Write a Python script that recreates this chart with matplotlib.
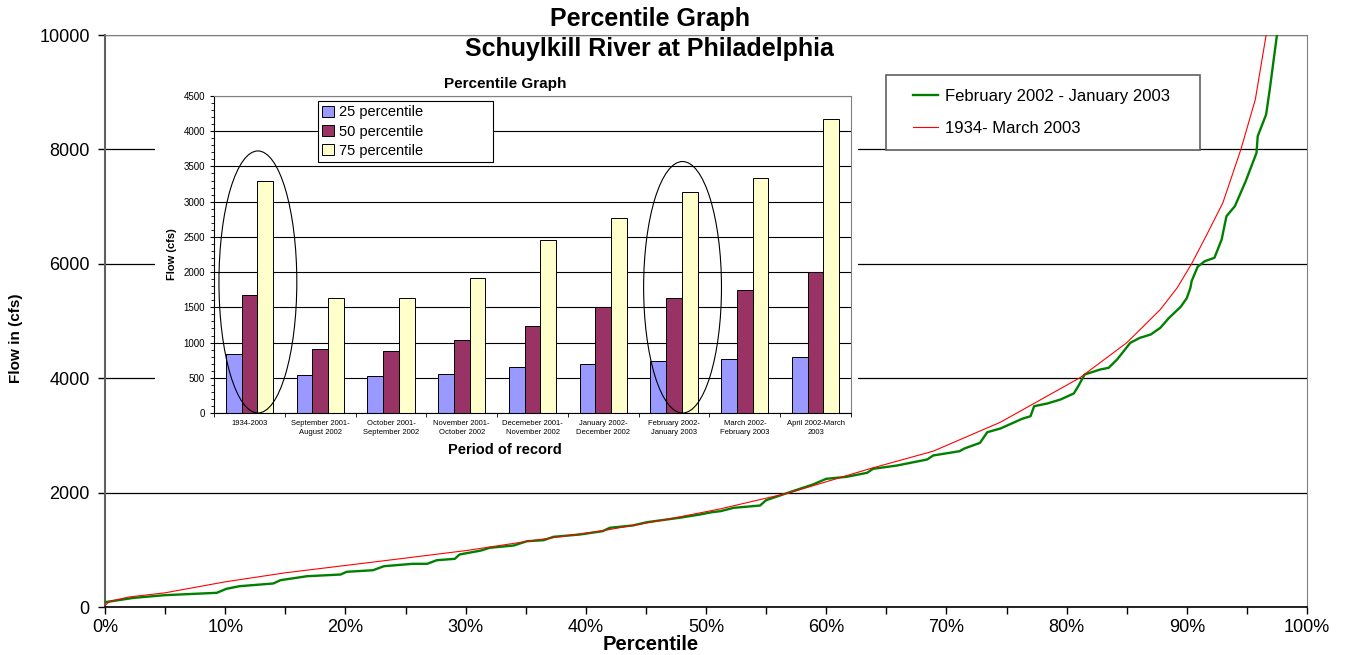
import matplotlib
matplotlib.use("Agg")
import matplotlib.pyplot as plt
from matplotlib.patches import Ellipse, Rectangle
from matplotlib.ticker import MultipleLocator, FuncFormatter
import numpy as np

plt.rcParams['font.family'] = ['Liberation Sans', 'DejaVu Sans']

# flow duration curves (percentile in %, flow in cfs)
pct_recent = [0, 2.4, 5, 9.3, 10.1, 11.2, 14, 14.6, 16.8, 19.6, 20.1, 22.3, 23.2, 25.6,
              26.8, 27.6, 29.1, 29.5, 31.3, 32, 34, 35.1, 36.5, 37.3, 39.5, 41.4, 42,
              43.9, 45.1, 47.8, 49.5, 50.5, 51.2, 52.3, 54.5, 55, 56.4, 57.8, 58.9, 60,
              61.7, 63.4, 63.9, 65.9, 68.4, 68.9, 71.1, 71.5, 72.8, 73.4, 74.5, 76.3, 77,
              77.3, 78.4, 79.5, 80.6, 81, 81.5, 82.8, 83.5, 84.2, 85.3, 86.1, 87, 87.8,
              88.5, 89.5, 90, 90.3, 90.4, 90.9, 91.5, 92.3, 92.9, 93.3, 94, 94.9, 95.8,
              95.9, 96.6, 96.9, 97.5, 98]
flow_recent = [84, 160, 207, 248, 318, 364, 411, 469, 538, 568, 615, 643, 713, 755,
               755, 818, 842, 918, 988, 1035, 1075, 1150, 1168, 1227, 1267, 1326, 1385,
               1425, 1483, 1560, 1617, 1658, 1675, 1734, 1774, 1867, 1967, 2066, 2142, 2241,
               2276, 2346, 2416, 2474, 2579, 2649, 2724, 2771, 2870, 3056, 3121, 3290, 3336,
               3511, 3558, 3628, 3733, 3872, 4065, 4152, 4182, 4327, 4619, 4706, 4764, 4881,
               5050, 5250, 5400, 5580, 5696, 5948, 6046, 6105, 6425, 6832, 7007, 7444, 7940,
               8231, 8610, 9047, 10000, 11000]

pct_record = [0, 0.4, 2, 5, 10, 15, 20, 24.5, 30.1, 35.6, 41.2, 46.7, 51.2, 57, 63.6,
              68.9, 74.5, 81.1, 85, 87.8, 89.2, 90.4, 91.6, 93, 94.5, 95.7, 96.6, 97.5]
flow_record = [26, 100, 175, 248, 440, 598, 726, 842, 988, 1163, 1326, 1530, 1716, 2000, 2416,
               2724, 3231, 4007, 4619, 5201, 5580, 6000, 6483, 7066, 8000, 8872, 10000, 11500]

# inset bar chart
periods = ["1934-2003", "September 2001-\nAugust 2002", "October 2001-\nSeptember 2002",
           "November 2001-\nOctober 2002", "Decemeber 2001-\nNovember 2002",
           "January 2002-\nDecember 2002", "February 2002-\nJanuary 2003",
           "March 2002-\nFebruary 2003", "April 2002-March\n2003"]
p25 = [840, 540, 530, 550, 660, 700, 740, 760, 800]
p50 = [1670, 910, 880, 1030, 1230, 1500, 1630, 1740, 2000]
p75 = [3290, 1630, 1630, 1920, 2460, 2770, 3140, 3340, 4170]
circled = [0, 6]

W, H = 1345, 655
fig = plt.figure(figsize=(W / 100, H / 100), dpi=100)

def box(l, t, r, b):
    return [l / W, 1 - b / H, (r - l) / W, (b - t) / H]

# main chart
ax = fig.add_axes(box(105, 35, 1307, 607))
ax.plot(pct_recent, flow_recent, color='#008000', lw=1.7, label='February 2002 - January 2003', zorder=3)
ax.plot(pct_record, flow_record, color='#ff0000', lw=0.8, label='1934- March 2003', zorder=4)
ax.set_xlim(0, 100)
ax.set_ylim(0, 10000)
ax.yaxis.set_major_locator(MultipleLocator(2000))
ax.xaxis.set_major_locator(MultipleLocator(10))
ax.xaxis.set_minor_locator(MultipleLocator(5))
ax.xaxis.set_major_formatter(FuncFormatter(lambda v, p: '%d%%' % v))
ax.grid(axis='y', color='black', lw=0.9)
ax.tick_params(axis='both', labelsize=13, direction='out', length=5, width=1)
ax.tick_params(axis='x', which='minor', length=5, width=1)
ax.tick_params(axis='y', pad=6)
for s in ['top', 'right']:
    ax.spines[s].set_color('#808080')
ax.spines['left'].set_color('#606060')
ax.spines['left'].set_linewidth(1.5)
ax.spines['bottom'].set_linewidth(1.2)

# legend box with its own frame
ax.add_patch(Rectangle((0.65, 0.799), 0.261, 0.131, transform=ax.transAxes, facecolor='white',
                       edgecolor='#606060', lw=1.2, zorder=5))
leg = ax.legend(loc='center left', bbox_to_anchor=(0.672, 0.8645), frameon=False,
                fontsize=12, labelspacing=1.05, handlelength=1.5, handletextpad=0.42,
                borderaxespad=0, borderpad=0)
leg.set_zorder(6)

fig.text(0.483, 1 - 19 / H, 'Percentile Graph', ha='center', va='center', fontsize=18, fontweight='bold')
fig.text(0.483, 1 - 49 / H, 'Schuylkill River at Philadelphia', ha='center', va='center', fontsize=18, fontweight='bold')
fig.text(16 / W, 1 - 338 / H, 'Flow in (cfs)', rotation=90, ha='center', va='center', fontsize=11, fontweight='bold')
fig.text(651 / W, 1 - 644 / H, 'Percentile', ha='center', va='center', fontsize=14.5, fontweight='bold')

# white backdrop for the inset
bg = fig.add_axes(box(155, 68, 858, 462))
bg.set_facecolor('white')
bg.set_xticks([])
bg.set_yticks([])
for s in bg.spines.values():
    s.set_visible(False)
bg.set_zorder(1)

ins = fig.add_axes(box(214, 96, 851, 413))
ins.set_zorder(2)
x = np.arange(len(periods))
bw = 0.222
ins.bar(x - bw, p25, bw, color='#9999ff', edgecolor='black', lw=0.7, label='25 percentile', zorder=2)
ins.bar(x, p50, bw, color='#993366', edgecolor='black', lw=0.7, label='50 percentile', zorder=2)
ins.bar(x + bw, p75, bw, color='#ffffcc', edgecolor='black', lw=0.7, label='75 percentile', zorder=2)
for i in circled:
    h = p75[i] + 430
    ins.add_patch(Ellipse((i + 0.12, h / 2), 1.1, h, fill=False, edgecolor='black', lw=0.8, zorder=3))
ins.set_xlim(-0.5, len(periods) - 0.5)
ins.set_ylim(0, 4500)
ins.yaxis.set_major_locator(MultipleLocator(500))
ins.yaxis.set_minor_locator(MultipleLocator(100))
ins.set_xticks(x)
ins.set_xticklabels(periods, fontsize=5.5, linespacing=1.5)
ins.set_xticks(np.arange(len(periods) + 1) - 0.5, minor=True)
ins.tick_params(axis='x', which='major', length=0, pad=5)
ins.tick_params(axis='x', which='minor', length=3, direction='out')
ins.tick_params(axis='y', which='major', labelsize=7, length=3, direction='out')
ins.tick_params(axis='y', which='minor', length=2, direction='out')
ins.grid(axis='y', color='black', lw=0.8, zorder=0)
ins.set_axisbelow(True)
for s in ['top', 'right']:
    ins.spines[s].set_color('#808080')
ins.set_ylabel('Flow (cfs)', fontsize=8, fontweight='bold', labelpad=5)
fig.text(505 / W, 1 - 84 / H, 'Percentile Graph', ha='center', va='center', fontsize=11, fontweight='bold', zorder=5)
fig.text(505 / W, 1 - 450 / H, 'Period of record', ha='center', va='center', fontsize=10.5, fontweight='bold', zorder=5)
il = ins.legend(loc='upper left', bbox_to_anchor=(0.163, 0.776, 0.275, 0.208), mode='expand',
                fontsize=10.5, frameon=True, fancybox=False, edgecolor='black', framealpha=1,
                handlelength=0.8, handleheight=0.8, handletextpad=0.35, labelspacing=0.35,
                borderaxespad=0, borderpad=0.3)
il.get_frame().set_linewidth(0.8)

fig.savefig('out.png', dpi=100)
